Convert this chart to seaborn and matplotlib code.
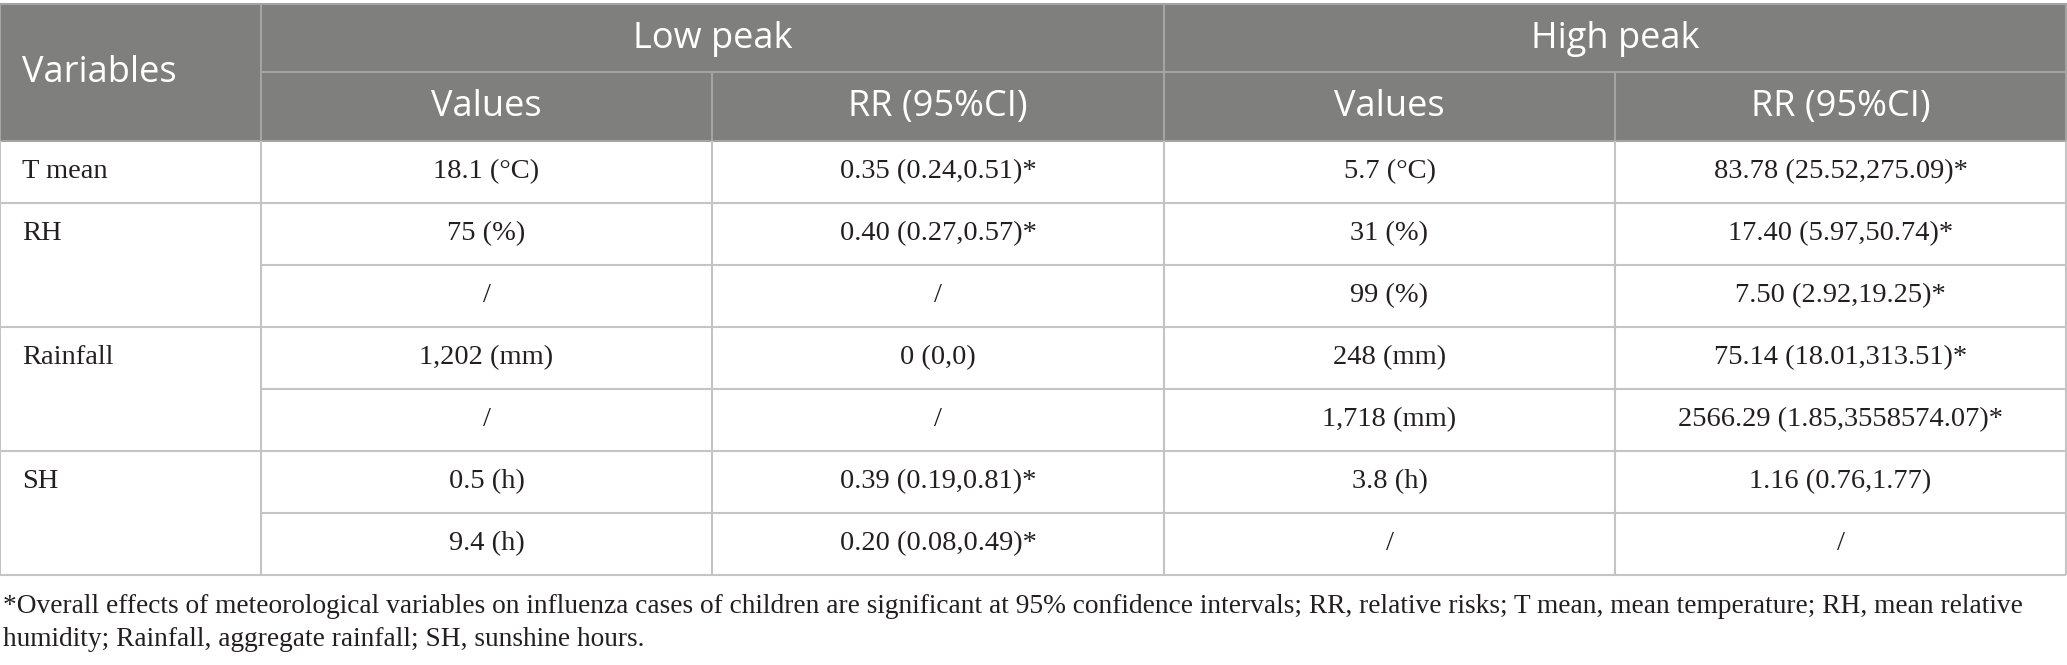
import matplotlib
matplotlib.use('Agg')
import matplotlib.pyplot as plt
from matplotlib.patches import Rectangle
import seaborn as sns

# ---- table content ----
variables = ['T mean', 'RH', '', 'Rainfall', '', 'SH', '']
low_values = ['18.1 (°C)', '75 (%)', '/', '1,202 (mm)', '/', '0.5 (h)', '9.4 (h)']
low_rr = ['0.35 (0.24,0.51)*', '0.40 (0.27,0.57)*', '/', '0 (0,0)', '/',
          '0.39 (0.19,0.81)*', '0.20 (0.08,0.49)*']
high_values = ['5.7 (°C)', '31 (%)', '99 (%)', '248 (mm)', '1,718 (mm)', '3.8 (h)', '/']
high_rr = ['83.78 (25.52,275.09)*', '17.40 (5.97,50.74)*', '7.50 (2.92,19.25)*',
           '75.14 (18.01,313.51)*', '2566.29 (1.85,3558574.07)*', '1.16 (0.76,1.77)', '/']
group_labels = ['Low peak', 'High peak']
sub_labels = ['Values', 'RR (95%CI)', 'Values', 'RR (95%CI)']
footnote_lines = [
    '*Overall effects of meteorological variables on influenza cases of children are significant '
    'at 95% confidence intervals; RR, relative risks; T mean, mean temperature; RH, mean relative',
    'humidity; Rainfall, aggregate rainfall; SH, sunshine hours.',
]

# ---- layout (pixels) ----
W, H = 2067, 665
col_edges = [0, 261, 712, 1164, 1615, 2066]
header_top, header_mid, header_bottom = 4, 72, 141
row_h = 62

HEADER_BG = '#7f807e'
HEADER_LINE = '#a4a5a3'
BODY_LINE = '#c4c4c4'
TEXT = '#231f20'
SERIF = ['Liberation Serif', 'DejaVu Serif']
SANS = ['Open Sans', 'DejaVu Sans']
HEADER_FS = 26
BODY_FS = 20.5

sns.set_theme(style='white')

fig = plt.figure(figsize=(W / 100, H / 100), dpi=100)
ax = fig.add_axes([0, 0, 1, 1])
ax.set_xlim(0, W)
ax.set_ylim(H, 0)
ax.axis('off')

# header block
ax.add_patch(Rectangle((col_edges[0], header_top), col_edges[-1] - col_edges[0],
                       header_bottom - header_top, facecolor=HEADER_BG,
                       edgecolor=HEADER_LINE, lw=1.5, zorder=1))
ax.hlines(header_mid, col_edges[1], col_edges[-1], color=HEADER_LINE, lw=1.5, zorder=2)
for x in (col_edges[1], col_edges[3]):
    ax.vlines(x, header_top, header_bottom, color=HEADER_LINE, lw=1.5, zorder=2)
for x in (col_edges[2], col_edges[4]):
    ax.vlines(x, header_mid, header_bottom, color=HEADER_LINE, lw=1.5, zorder=2)

ax.text(22, (header_top + header_bottom) / 2 + 1, 'Variables', color='white', fontsize=HEADER_FS,
        family=SANS, ha='left', va='center', zorder=3)
for i, label in enumerate(group_labels):
    xc = (col_edges[1 + 2 * i] + col_edges[3 + 2 * i]) / 2
    ax.text(xc, (header_top + header_mid) / 2 + 1, label, color='white', fontsize=HEADER_FS,
            family=SANS, ha='center', va='center', zorder=3)
for i, label in enumerate(sub_labels):
    xc = (col_edges[1 + i] + col_edges[2 + i]) / 2
    ax.text(xc, (header_mid + header_bottom) / 2 + 1, label, color='white', fontsize=HEADER_FS,
            family=SANS, ha='center', va='center', zorder=3)

# body
n_rows = len(variables)
table_bottom = header_bottom + n_rows * row_h
for k in range(1, n_rows + 1):
    y = header_bottom + k * row_h
    # merged variable cells have no line in the first column
    x0 = col_edges[1] if (k < n_rows and variables[k] == '') else col_edges[0]
    ax.hlines(y, x0, col_edges[-1], color=BODY_LINE, lw=1.5, zorder=2)
for x in col_edges:
    ax.vlines(x, header_bottom, table_bottom, color=BODY_LINE, lw=1.5, zorder=2)

columns = [low_values, low_rr, high_values, high_rr]
for r in range(n_rows):
    yc = header_bottom + (r + 0.5) * row_h
    ax.text(22, yc, variables[r], color=TEXT, fontsize=BODY_FS, family=SERIF,
            ha='left', va='center', zorder=3)
    for c, col in enumerate(columns):
        xc = (col_edges[1 + c] + col_edges[2 + c]) / 2
        ax.text(xc, yc, col[r], color=TEXT, fontsize=BODY_FS, family=SERIF,
                ha='center', va='center', zorder=3)

# footnote
for i, line in enumerate(footnote_lines):
    ax.text(3, 613 + i * 33, line, color=TEXT, fontsize=19.7, family=SERIF,
            ha='left', va='baseline', zorder=3)

fig.savefig('out.png', dpi=100, facecolor='white')
plt.close(fig)
